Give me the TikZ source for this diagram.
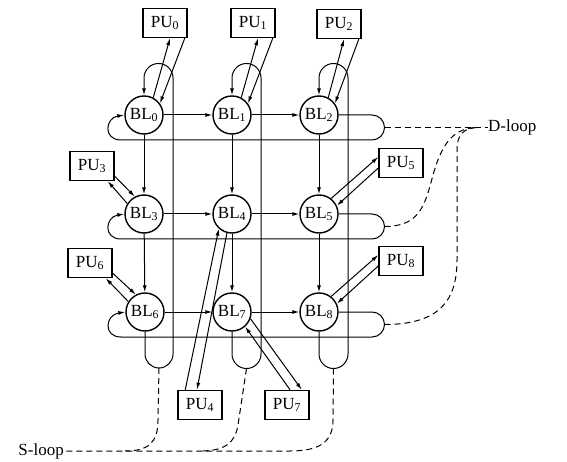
\documentclass[tikz,border=0pt]{standalone}
\usepackage{fontspec}
\setmainfont{Liberation Serif}
\usetikzlibrary{arrows.meta,calc}
\begin{document}
\begin{tikzpicture}[x=1pt,y=-1pt,
  bl/.style={circle,draw,line width=1.4pt,minimum size=38pt,inner sep=0pt,font=\fontsize{17}{19}\selectfont},
  pu/.style={rectangle,draw,line width=1.5pt,minimum width=44pt,minimum height=29pt,inner sep=1pt,font=\fontsize{17}{19}\selectfont},
  link/.style={line width=1pt,-{Latex[length=7pt,width=4pt]}},
  dl/.style={line width=1pt,dash pattern=on 6pt off 4pt},
  lbl/.style={font=\fontsize{17}{19}\selectfont,inner sep=0pt}]
\useasboundingbox (0,0) rectangle (567,462);

% BL nodes
\node[bl] (BL0) at (144,115) {BL\textsubscript{0}};
\node[bl] (BL1) at (232,115) {BL\textsubscript{1}};
\node[bl] (BL2) at (319,115) {BL\textsubscript{2}};
\node[bl] (BL3) at (144,214) {BL\textsubscript{3}};
\node[bl] (BL4) at (232,214) {BL\textsubscript{4}};
\node[bl] (BL5) at (319,214) {BL\textsubscript{5}};
\node[bl] (BL6) at (145,312) {BL\textsubscript{6}};
\node[bl] (BL7) at (232,312) {BL\textsubscript{7}};
\node[bl] (BL8) at (319,312) {BL\textsubscript{8}};

% PU nodes
\node[pu] (PU0) at (165,23) {PU\textsubscript{0}};
\node[pu] (PU1) at (253,23) {PU\textsubscript{1}};
\node[pu] (PU2) at (339,24) {PU\textsubscript{2}};
\node[pu] (PU3) at (92,166) {PU\textsubscript{3}};
\node[pu] (PU6) at (90,263) {PU\textsubscript{6}};
\node[pu] (PU5) at (401,163) {PU\textsubscript{5}};
\node[pu] (PU8) at (401,261) {PU\textsubscript{8}};
\node[pu] (PU4) at (200,405) {PU\textsubscript{4}};
\node[pu] (PU7) at (287,405) {PU\textsubscript{7}};

% labels
\node[lbl,anchor=west] (dlab) at (488,127) {D-loop};
\node[lbl,anchor=east] (slab) at (64,451) {S-loop};

% grid arrows
\draw[link] (BL0) -- (BL1);
\draw[link] (BL1) -- (BL2);
\draw[link] (BL3) -- (BL4);
\draw[link] (BL4) -- (BL5);
\draw[link] (BL6) -- (BL7);
\draw[link] (BL7) -- (BL8);
\draw[link] (BL0) -- (BL3);
\draw[link] (BL3) -- (BL6);
\draw[link] (BL1) -- (BL4);
\draw[link] (BL4) -- (BL7);
\draw[link] (BL2) -- (BL5);
\draw[link] (BL5) -- (BL8);

% D-loops (rows)
\draw[link] (BL2.east) -- (372,115) arc[start angle=-90,end angle=90,radius=12.5] -- (121,140) .. controls (103,140) and (105,118) .. (BL0.west);
\draw[link] (BL5.east) -- (372,214) arc[start angle=-90,end angle=90,radius=12.5] -- (121,239) .. controls (103,239) and (105,217) .. (BL3.west);
\draw[link] (BL8.east) -- (372,312) arc[start angle=-90,end angle=90,radius=12.5] -- (121,337) .. controls (103,337) and (105,315) .. (BL6.west);

% S-loops (columns)
\draw[link] (BL6.south) -- (145,354) arc[start angle=180,end angle=0,radius=14] -- (173,78) arc[start angle=0,end angle=-180,radius=14.5] -- (BL0.north);
\draw[link] (BL7.south) -- (232,354) arc[start angle=180,end angle=0,radius=14.5] -- (261,78) arc[start angle=0,end angle=-180,radius=14.5] -- (BL1.north);
\draw[link] (BL8.south) -- (319,354) arc[start angle=180,end angle=0,radius=14.5] -- (348,78) arc[start angle=0,end angle=-180,radius=14.5] -- (BL2.north);

% PU <-> BL
\draw[link] (BL0.62) -- ($(PU0.south)+(5,0)$);
\draw[link] ($(PU0.south east)+(-3,0)$) -- (BL0.36);
\draw[link] (BL1.62) -- ($(PU1.south)+(5,0)$);
\draw[link] ($(PU1.south east)+(-3,0)$) -- (BL1.36);
\draw[link] (BL2.62) -- ($(PU2.south)+(5,0)$);
\draw[link] ($(PU2.south east)+(-3,0)$) -- (BL2.36);

\draw[link] (BL3.148) -- ($(PU3.south east)+(-7,0)$);
\draw[link] ($(PU3.south east)+(0,-5)$) -- (BL3.118);
\draw[link] (BL6.148) -- ($(PU6.south east)+(-7,0)$);
\draw[link] ($(PU6.south east)+(0,-5)$) -- (BL6.118);

\draw[link] (BL5.52) -- ($(PU5.west)+(0,-6)$);
\draw[link] ($(PU5.west)+(0,5)$) -- (BL5.25);
\draw[link] (BL8.52) -- ($(PU8.west)+(0,-6)$);
\draw[link] ($(PU8.west)+(0,5)$) -- (BL8.25);

\draw[link] ($(PU4.north west)+(8,0)$) -- (BL4.228);
\draw[link] (BL4.255) -- ($(PU4.north)+(-3,0)$);
\draw[link] (BL7.340) -- ($(PU7.north east)+(-8,0)$);
\draw[link] ($(PU7.north)+(3,0)$) -- (BL7.312);

% dashed D-loop links
\coordinate (dr0) at (384.5,127.5);
\coordinate (dr1) at (384.5,226.5);
\coordinate (dr2) at (384.5,324.5);
\coordinate (dm) at (478,127.5);
\draw[dl] (dr0) -- (dr0 -| dlab.west);
\draw[dl] (dr1) .. controls (420,226.5) and (425,205) .. (433,175) .. controls (443,140) and (455,128) .. (dm);
\draw[dl] (dr2) .. controls (440,324.5) and (457,300) .. (457,260) -- (457,150) .. controls (457,135) and (463,128) .. (dm);

% dashed S-loop links
\coordinate (sb0) at (159,368);
\coordinate (sb1) at (246.5,368.5);
\coordinate (sb2) at (333.5,368.5);
\draw[dl] (sb0) -- (158,420) .. controls (158,443) and (148,451) .. (125,451);
\draw[dl] (sb1) -- (238,425) .. controls (235,443) and (225,451) .. (200,451);
\draw[dl] (sb2) -- (333,420) .. controls (333,443) and (318,451) .. (290,451) -- (slab.east);
\end{tikzpicture}
\end{document}
